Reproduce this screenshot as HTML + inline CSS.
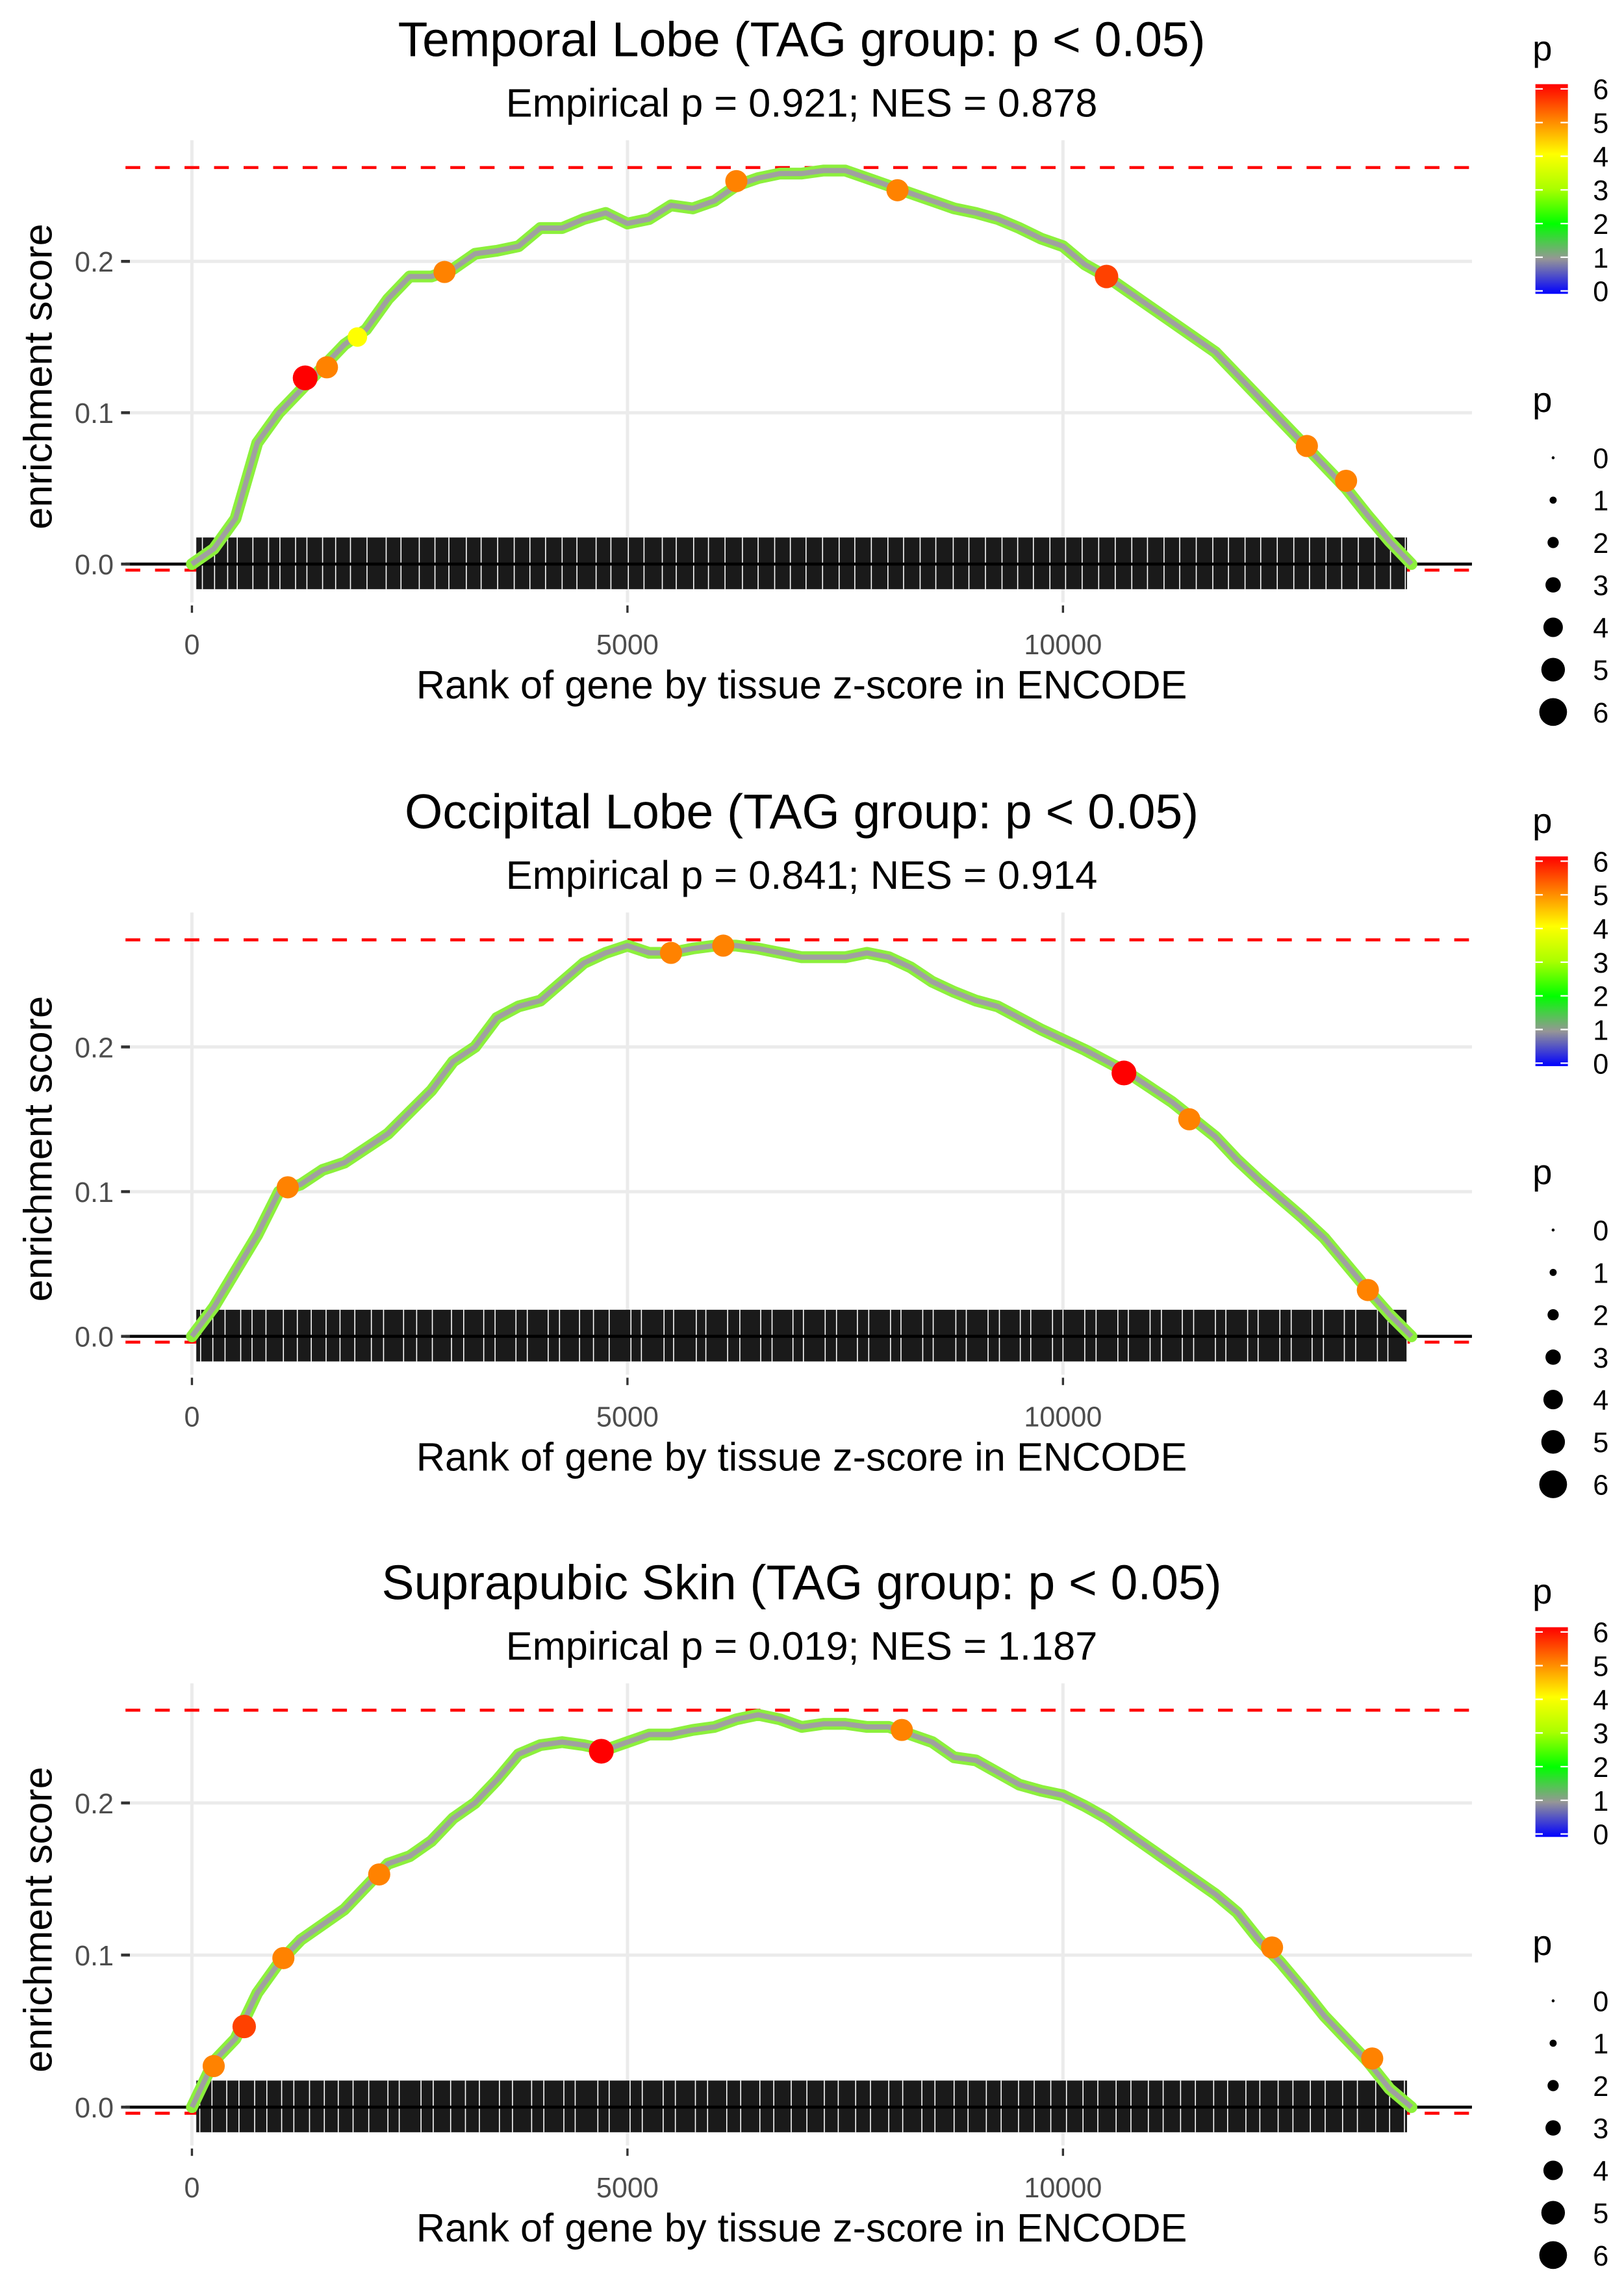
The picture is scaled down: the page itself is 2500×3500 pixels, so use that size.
<!DOCTYPE html>
<html><head><meta charset="utf-8"><style>
html,body{margin:0;padding:0;background:#fff}
svg{display:block}
text{font-family:"Liberation Sans",sans-serif}
</style></head><body>
<svg id="chart" width="2500" height="3500" viewBox="0 0 1100 1540" xmlns="http://www.w3.org/2000/svg"></svg>
<script>
const ranks = [0,250,500,750,1000,1250,1500,1750,2000,2250,2500,2750,3000,3250,3500,3750,4000,4250,4500,4750,5000,5250,5500,5750,6000,6250,6500,6750,7000,7250,7500,7750,8000,8250,8500,8750,9000,9250,9500,9750,10000,10250,10500,10750,11000,11250,11500,11750,12000,12250,12500,12750,13000,13250,13500,13750,14000];
const esTemporal = [0,0.01,0.03,0.08,0.10,0.115,0.13,0.145,0.155,0.175,0.19,0.19,0.195,0.205,0.207,0.21,0.222,0.222,0.228,0.232,0.225,0.228,0.237,0.235,0.24,0.25,0.255,0.258,0.258,0.26,0.26,0.255,0.25,0.245,0.24,0.235,0.232,0.228,0.222,0.215,0.21,0.198,0.19,0.18,0.17,0.16,0.15,0.14,0.125,0.11,0.095,0.08,0.065,0.05,0.032,0.015,0];
const esOccipital = [0,0.02,0.045,0.07,0.1,0.105,0.115,0.12,0.13,0.14,0.155,0.17,0.19,0.2,0.22,0.228,0.232,0.245,0.258,0.265,0.27,0.265,0.265,0.268,0.27,0.27,0.268,0.265,0.262,0.262,0.262,0.265,0.262,0.255,0.245,0.238,0.232,0.228,0.22,0.212,0.205,0.198,0.19,0.182,0.172,0.162,0.15,0.138,0.122,0.108,0.095,0.082,0.068,0.05,0.032,0.015,0];
const esSkin = [0,0.03,0.045,0.075,0.095,0.11,0.12,0.13,0.145,0.16,0.165,0.175,0.19,0.2,0.215,0.232,0.238,0.24,0.238,0.235,0.24,0.245,0.245,0.248,0.25,0.255,0.258,0.255,0.25,0.252,0.252,0.25,0.25,0.245,0.24,0.23,0.228,0.22,0.212,0.208,0.205,0.198,0.19,0.18,0.17,0.16,0.15,0.14,0.128,0.11,0.095,0.078,0.06,0.045,0.03,0.012,0];
const hitsTemporal = [[1300,0.123,6],[1550,0.13,5],[1900,0.15,4],[2900,0.193,5],[6250,0.253,5],[8100,0.247,5],[10500,0.19,5.5],[12800,0.078,5],[13250,0.055,5]];
const hitsOccipital = [[1100,0.103,5],[5500,0.265,5],[6100,0.27,5],[10700,0.182,6],[11450,0.15,5],[13500,0.032,5]];
const hitsSkin = [[250,0.027,5],[600,0.053,5.5],[1050,0.098,5],[2150,0.153,5],[4700,0.234,6],[8150,0.248,5],[12400,0.105,5],[13550,0.032,5]];
const rugTemporal = [120,260,410,520,700,880,1010,1190,1320,1500,1650,1820,2010,2230,2400,2610,2790,2950,3150,3320,3510,3700,3880,4060,4250,4420,4640,4810,5010,5190,5400,5560,5760,5930,6120,6320,6500,6690,6870,7050,7240,7430,7610,7800,7990,8170,8360,8540,8740,8920,9110,9300,9480,9660,9850,10030,10220,10410,10600,10790,10970,11160,11340,11530,11720,11900,12090,12270,12460,12650,12830,13020,13200,13390,13580,13760,13930];
const rugOccipital = [100,240,380,560,690,850,1050,1210,1370,1540,1700,1870,2060,2200,2430,2580,2760,2980,3120,3350,3480,3720,3850,4090,4220,4450,4610,4790,5040,5160,5420,5530,5790,5900,6150,6290,6530,6660,6900,7020,7270,7400,7640,7770,8020,8140,8390,8510,8770,8890,9140,9270,9510,9630,9880,10000,10250,10380,10630,10750,11000,11130,11370,11500,11750,11870,12120,12240,12490,12620,12860,12990,13230,13360,13610,13730,13950];
const rugSkin = [90,230,400,540,720,860,1030,1170,1350,1520,1680,1850,2030,2250,2380,2630,2770,2970,3140,3300,3530,3680,3900,4040,4270,4400,4660,4790,5030,5170,5410,5550,5780,5920,6140,6300,6520,6680,6880,7060,7260,7420,7620,7790,8000,8160,8380,8530,8750,8910,9120,9290,9490,9670,9860,10040,10230,10400,10610,10780,10980,11150,11350,11520,11730,11890,12100,12260,12470,12640,12840,13010,13210,13380,13590,13750,13920];
const xTicks = [0,5000,10000];
const yTicks = [0,0.1,0.2];
const legendVals = [0,1,2,3,4,5,6];

const panels = [
 {title:"Temporal Lobe (TAG group: p < 0.05)", sub:"Empirical p = 0.921; NES = 0.878", es:esTemporal, hits:hitsTemporal, rug:rugTemporal, top:0.262, off:0, y0:382, k:1025},
 {title:"Occipital Lobe (TAG group: p < 0.05)", sub:"Empirical p = 0.841; NES = 0.914", es:esOccipital, hits:hitsOccipital, rug:rugOccipital, top:0.274, off:523, y0:905, k:980},
 {title:"Suprapubic Skin (TAG group: p < 0.05)", sub:"Empirical p = 0.019; NES = 1.187", es:esSkin, hits:hitsSkin, rug:rugSkin, top:0.261, off:1045, y0:1427, k:1030}
];
const NS="http://www.w3.org/2000/svg";
const svg=document.getElementById('chart');
function mk(tag,attrs,parent,txt){const e=document.createElementNS(NS,tag);for(const a in attrs)e.setAttribute(a,attrs[a]);if(txt!==undefined)e.textContent=txt;(parent||svg).appendChild(e);return e;}
const xs=r=>130+r*295/5000;
function pColor(p){const stops=[[0,[0,0,255]],[1,[150,150,150]],[2,[0,255,0]],[3,[170,255,0]],[4,[255,255,0]],[5,[255,130,0]],[6,[255,0,0]]];
 for(let i=0;i<6;i++){if(p<=stops[i+1][0]){const t=(p-stops[i][0]);const a=stops[i][1],b=stops[i+1][1];return `rgb(${a.map((v,j)=>Math.round(v+(b[j]-v)*t)).join(',')})`;}}return 'rgb(255,0,0)';}
const defs=mk('defs',{});
const lg=mk('linearGradient',{id:'pgrad',x1:0,y1:1,x2:0,y2:0},defs);
legendVals.forEach(v=>{mk('stop',{offset:(v/6),'stop-color':pColor(v)},lg);});

panels.forEach((P,pi)=>{
 const g=mk('g',{});
 
 
 const ys=v=>P.y0-v*P.k;
 const o=P.off;
 const t=mk('text',{x:543,y:o+38,'text-anchor':'middle','font-size':33,fill:'#000'},g,P.title);
 
 const s=mk('text',{x:543,y:o+79,'text-anchor':'middle','font-size':27,fill:'#000'},g,P.sub);
 
 xTicks.forEach(v=>{const l=mk('line',{x1:xs(v),x2:xs(v),y1:o+95,y2:o+408,stroke:'#ebebeb','stroke-width':2.2},g);});
 yTicks.forEach(v=>{const l=mk('line',{x1:85,x2:997,y1:ys(v),y2:ys(v),stroke:'#ebebeb','stroke-width':2.2},g);});
 const d1=mk('line',{x1:85,x2:997,y1:ys(P.top),y2:ys(P.top),stroke:'#ff0000','stroke-width':2,'stroke-dasharray':'10,10'},g);
 const d2=mk('line',{x1:85,x2:997,y1:ys(-0.004),y2:ys(-0.004),stroke:'#ff0000','stroke-width':2,'stroke-dasharray':'10,10'},g);
 const band=mk('rect',{x:xs(50),y:P.y0-18,width:xs(13950)-xs(50),height:35,fill:'#1a1a1a'},g);
 P.rug.forEach(r=>{const l=mk('line',{x1:xs(r),x2:xs(r),y1:P.y0-18,y2:P.y0+17,stroke:'#fff','stroke-width':0.7},g);});
 const zl=mk('line',{x1:85,x2:997,y1:P.y0,y2:P.y0,stroke:'#000','stroke-width':2},g);
 const pts=ranks.map((r,i)=>xs(r)+','+ys(P.es[i])).join(' ');
 const c1=mk('polyline',{points:pts,fill:'none',stroke:'#8cf03c','stroke-width':8,'stroke-linejoin':'round','stroke-linecap':'round'},g);
 const c2=mk('polyline',{points:pts,fill:'none',stroke:'#a0a0a0','stroke-width':3.5,'stroke-linejoin':'round'},g);
 P.hits.forEach(h=>{const c=mk('circle',{cx:xs(h[0]),cy:ys(h[1]),r:3+h[2]*0.9,fill:pColor(h[2])},g);});
 xTicks.forEach(v=>{const tk=mk('line',{x1:xs(v),x2:xs(v),y1:o+410,y2:o+415,stroke:'#333','stroke-width':1.5},g);
  const tl=mk('text',{x:xs(v),y:o+443,'text-anchor':'middle','font-size':19,fill:'#4d4d4d'},g,String(v));});
 yTicks.forEach(v=>{const tk=mk('line',{x1:82,x2:88,y1:ys(v),y2:ys(v),stroke:'#333','stroke-width':2},g);
  const tl=mk('text',{x:77,y:ys(v)+7,'text-anchor':'end','font-size':19,fill:'#4d4d4d'},g,v.toFixed(1));});
 const xt=mk('text',{x:543,y:o+473,'text-anchor':'middle','font-size':27,fill:'#000'},g,'Rank of gene by tissue z-score in ENCODE');
 const yt=mk('text',{x:0,y:0,'text-anchor':'middle','font-size':27,fill:'#000',transform:`translate(35,${o+255}) rotate(-90)`},g,'enrichment score');
 const lt=mk('text',{x:1038,y:o+41,'font-size':24,fill:'#000'},g,'p');
 const cb=mk('rect',{x:1040,y:o+57,width:22,height:142,fill:'url(#pgrad)'},g);
 legendVals.forEach(v=>{const yy=o+197-v*22.8;
  mk('line',{x1:1040,x2:1045,y1:yy,y2:yy,stroke:'#fff','stroke-width':1},g);mk('line',{x1:1057,x2:1062,y1:yy,y2:yy,stroke:'#fff','stroke-width':1},g);
  const cl=mk('text',{x:1079,y:yy+7,'font-size':19,fill:'#000'},g,String(v));});
 const st=mk('text',{x:1038,y:o+279,'font-size':24,fill:'#000'},g,'p');
 legendVals.forEach(v=>{const yy=o+310+v*28.7;
  const sc=mk('circle',{cx:1052,cy:yy,r:1+v*1.4,fill:'#000'},g);
  const sl=mk('text',{x:1079,y:yy+7,'font-size':19,fill:'#000'},g,String(v));});
});
</script>
</body></html>
